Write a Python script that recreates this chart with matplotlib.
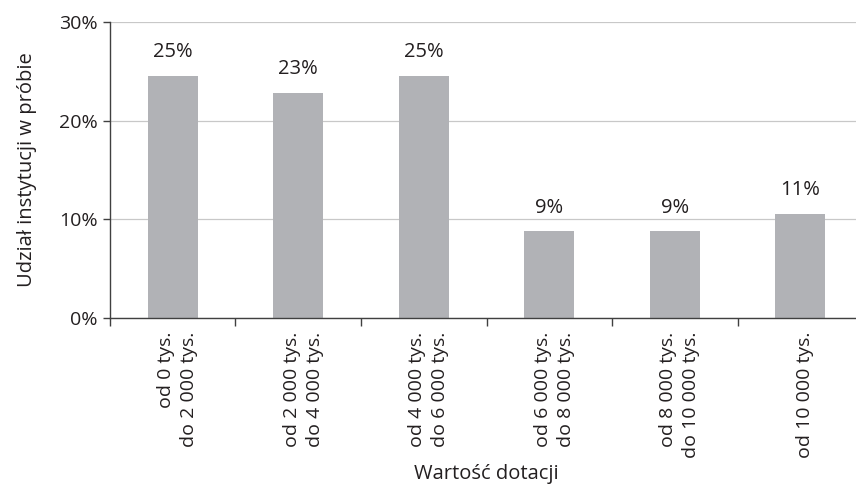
import matplotlib.pyplot as plt
import numpy as np

# udział instytucji w próbie wg wartości dotacji (%)
kategorie = ['od 0 tys.\ndo 2 000 tys.', 'od 2 000 tys.\ndo 4 000 tys.',
             'od 4 000 tys.\ndo 6 000 tys.', 'od 6 000 tys.\ndo 8 000 tys.',
             'od 8 000 tys.\ndo 10 000 tys.', 'od 10 000 tys.']
udzial = [24.56, 22.81, 24.56, 8.77, 8.77, 10.53]

plt.rcParams['font.family'] = ['Open Sans', 'DejaVu Sans']
tekst = '#231f20'

fig = plt.figure(figsize=(8.56, 4.92), dpi=100)
# prawa krawędź osi wychodzi poza rysunek
ax = fig.add_axes([0.1285, 0.3537, 0.8797, 0.6013])

x = np.arange(len(kategorie))
ax.bar(x, udzial, width=0.4, color='#b1b2b6', zorder=2)
for xi, v in zip(x, udzial):
    ax.text(xi, v + 1.4, f'{v:.0f}%', ha='center', va='bottom', fontsize=14.5, color=tekst)

ax.set_xlim(-0.5, len(kategorie) - 0.5)
ax.set_ylim(0, 30)
ax.set_yticks([0, 10, 20, 30])
ax.set_yticklabels(['0%', '10%', '20%', '30%'], fontsize=14, color=tekst)
ax.yaxis.grid(True, color='#c8c8c8', linewidth=0.9, zorder=0)
ax.set_axisbelow(True)

# kreski między kategoriami, etykiety pod słupkami
ax.set_xticks(np.arange(-0.5, len(kategorie)), minor=False)
ax.set_xticklabels([])
ax.set_xticks(x + 0.04, minor=True)
ax.set_xticklabels(kategorie, minor=True, rotation=90, ha='center', va='top',
                   multialignment='right', fontsize=14, color=tekst, linespacing=1.35)
ax.tick_params(axis='x', which='major', length=6, width=1, color='#404040', direction='out')
ax.tick_params(axis='x', which='minor', length=0, pad=10)
ax.tick_params(axis='y', length=5, width=1, color='#404040', pad=4)

for s in ['top', 'right']:
    ax.spines[s].set_visible(False)
for s in ['left', 'bottom']:
    ax.spines[s].set_color('#404040')
    ax.spines[s].set_linewidth(1)

ax.set_ylabel('Udział instytucji w próbie', fontsize=14.5, color=tekst, labelpad=16)
ax.set_xlabel('Wartość dotacji', fontsize=14.5, color=tekst, labelpad=4)

fig.savefig('out.png', dpi=100)
